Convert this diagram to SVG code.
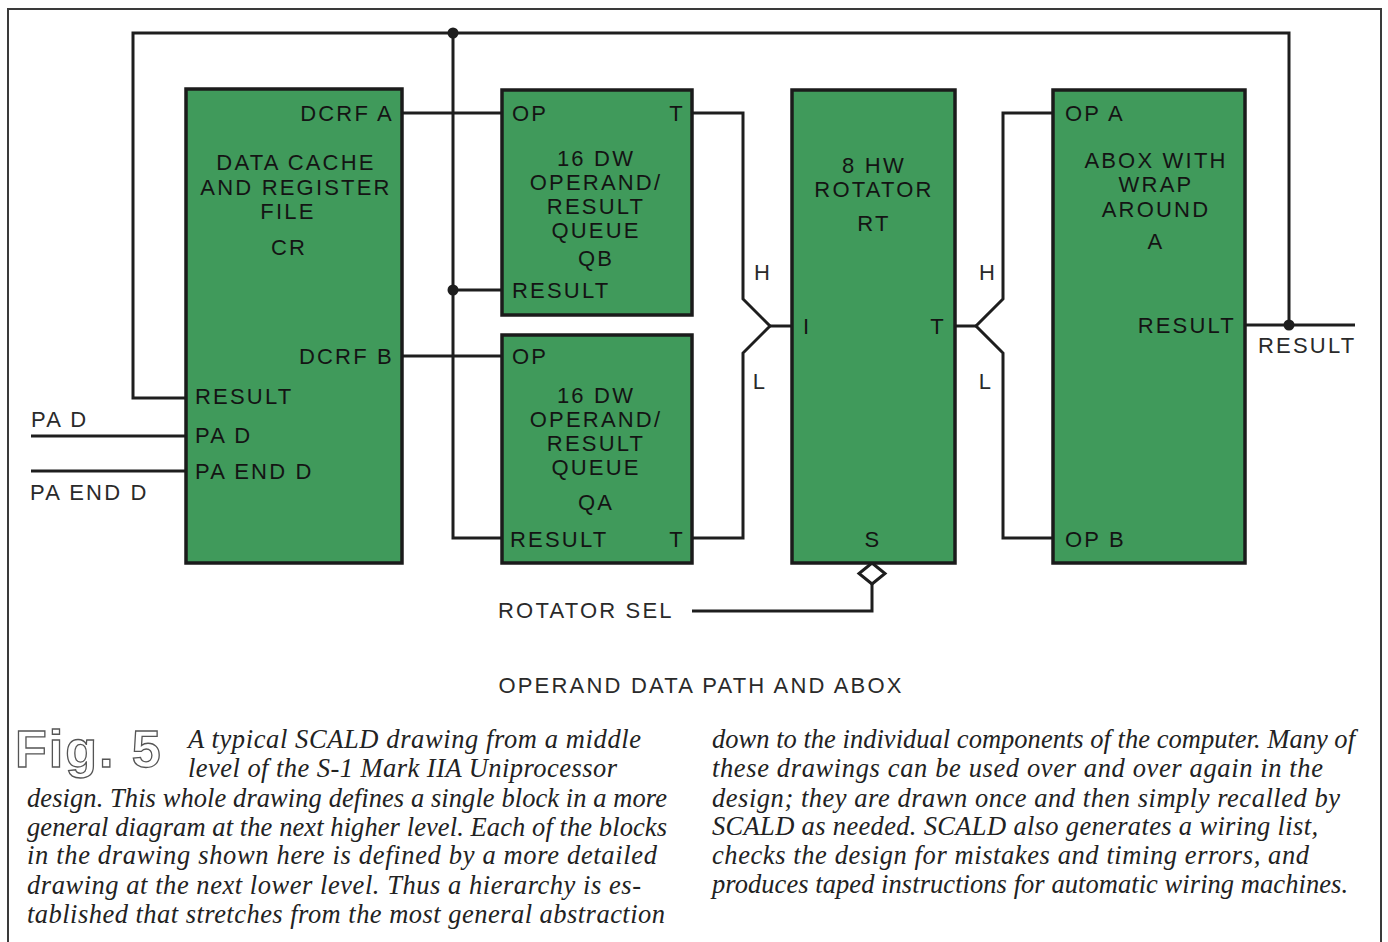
<svg xmlns="http://www.w3.org/2000/svg" width="1388" height="942" viewBox="0 0 1388 942">
<style>
.box{fill:#409a5b;stroke:#1b1b1b;stroke-width:3.5}
.w{fill:none;stroke:#1e1e1e;stroke-width:3;stroke-linejoin:miter}
.fr{fill:none;stroke:#3a3a3a;stroke-width:2}
.t{font-family:"Liberation Sans",Arial,sans-serif;font-size:22px;letter-spacing:2.2px;fill:#141414}
.o{font-family:"Liberation Sans",Arial,sans-serif;font-size:22px;letter-spacing:2.2px;fill:#2a2a2a}
.m{text-anchor:middle}
.e{text-anchor:end}
.c{font-family:"Liberation Serif","Times New Roman",serif;font-style:italic;font-size:26.5px;fill:#222}
.fig{font-family:"Liberation Sans",Arial,sans-serif;font-size:52px;font-weight:bold;letter-spacing:2px;fill:#fff;stroke:#555;stroke-width:1.3}
</style>
<rect width="1388" height="942" fill="#fff"/>
<path class="fr" d="M8,942 V9 H1381 V942"/>

<g id="connectors">
<path class="w" d="M186,398 H133 V33 H1289 V325"/>
<path class="w" d="M1245,325 H1355"/>
<path class="w" d="M453,33 V538 H502"/>
<path class="w" d="M453,290 H502"/>
<path class="w" d="M402,113 H502"/>
<path class="w" d="M402,356 H502"/>
<path class="w" d="M31,436 H186"/>
<path class="w" d="M31,471 H186"/>
<path class="w" d="M692,113 H743 V299 L770,326 L743,353 V538 H692"/>
<path class="w" d="M770,326 H792"/>
<path class="w" d="M1053,113 H1003 V299 L976,326 L1003,353 V538 H1053"/>
<path class="w" d="M955,326 H976"/>
<path class="w" d="M692,611 H872 V584"/>
<polygon points="872,563 885,573.5 872,584 859,573.5" fill="#fff" stroke="#1e1e1e" stroke-width="3"/>
<circle cx="453" cy="33" r="5.5" fill="#1e1e1e"/>
<circle cx="453" cy="290" r="5.5" fill="#1e1e1e"/>
<circle cx="1289" cy="325" r="5.5" fill="#1e1e1e"/>
</g>

<g id="CR">
<rect class="box" x="186" y="89" width="216" height="474"/>
<text class="t e" x="394" y="121">DCRF A</text>
<text class="t m" x="296" y="170">DATA CACHE</text>
<text class="t m" x="296" y="195">AND REGISTER</text>
<text class="t m" x="288" y="219">FILE</text>
<text class="t m" x="289" y="255">CR</text>
<text class="t e" x="394" y="364">DCRF B</text>
<text class="t" x="195" y="404">RESULT</text>
<text class="t" x="195" y="443">PA D</text>
<text class="t" x="195" y="479">PA END D</text>
</g>

<g id="QB">
<rect class="box" x="502" y="90" width="190" height="225"/>
<text class="t" x="512" y="121">OP</text>
<text class="t e" x="685" y="121">T</text>
<text class="t m" x="596" y="166">16 DW</text>
<text class="t m" x="596" y="190">OPERAND/</text>
<text class="t m" x="596" y="214">RESULT</text>
<text class="t m" x="596" y="238">QUEUE</text>
<text class="t m" x="596" y="266">QB</text>
<text class="t" x="512" y="298">RESULT</text>
</g>

<g id="QA">
<rect class="box" x="502" y="335" width="190" height="228"/>
<text class="t" x="512" y="364">OP</text>
<text class="t m" x="596" y="403">16 DW</text>
<text class="t m" x="596" y="427">OPERAND/</text>
<text class="t m" x="596" y="451">RESULT</text>
<text class="t m" x="596" y="475">QUEUE</text>
<text class="t m" x="596" y="510">QA</text>
<text class="t" x="510" y="547">RESULT</text>
<text class="t e" x="685" y="547">T</text>
</g>

<g id="RT">
<rect class="box" x="792" y="90" width="163" height="473"/>
<text class="t m" x="874" y="173">8 HW</text>
<text class="t m" x="874" y="197">ROTATOR</text>
<text class="t m" x="874" y="231">RT</text>
<text class="t" x="803" y="334">I</text>
<text class="t e" x="946" y="334">T</text>
<text class="t m" x="873" y="547">S</text>
</g>

<g id="ABOX">
<rect class="box" x="1053" y="90" width="192" height="473"/>
<text class="t" x="1065" y="121">OP A</text>
<text class="t m" x="1156" y="168">ABOX WITH</text>
<text class="t m" x="1156" y="192">WRAP</text>
<text class="t m" x="1156" y="217">AROUND</text>
<text class="t m" x="1156" y="249">A</text>
<text class="t e" x="1236" y="333">RESULT</text>
<text class="t" x="1065" y="547">OP B</text>
</g>

<g id="labels">
<text class="o" x="31" y="427">PA D</text>
<text class="o" x="30" y="500">PA END D</text>
<text class="o m" x="763" y="280">H</text>
<text class="o m" x="760" y="389">L</text>
<text class="o m" x="988" y="280">H</text>
<text class="o m" x="986" y="389">L</text>
<text class="o" x="1258" y="353">RESULT</text>
<text class="o" x="498" y="618">ROTATOR SEL</text>
<text class="o m" x="701" y="693">OPERAND DATA PATH AND ABOX</text>
</g>

<g id="caption">
<text class="fig" x="15" y="767">Fig. 5</text>
<text class="c" x="188" y="748" textLength="453" lengthAdjust="spacing">A typical SCALD drawing from a middle</text>
<text class="c" x="188" y="777" textLength="429" lengthAdjust="spacing">level of the S-1 Mark IIA Uniprocessor</text>
<text class="c" x="27" y="807" textLength="640" lengthAdjust="spacing">design. This whole drawing defines a single block in a more</text>
<text class="c" x="27" y="836" textLength="640" lengthAdjust="spacing">general diagram at the next higher level. Each of the blocks</text>
<text class="c" x="27" y="864" textLength="630" lengthAdjust="spacing">in the drawing shown here is defined by a more detailed</text>
<text class="c" x="27" y="894" textLength="614" lengthAdjust="spacing">drawing at the next lower level. Thus a hierarchy is es-</text>
<text class="c" x="27" y="923" textLength="638" lengthAdjust="spacing">tablished that stretches from the most general abstraction</text>
<text class="c" x="712" y="748" textLength="643" lengthAdjust="spacing">down to the individual components of the computer. Many of</text>
<text class="c" x="712" y="777" textLength="611" lengthAdjust="spacing">these drawings can be used over and over again in the</text>
<text class="c" x="712" y="807" textLength="628" lengthAdjust="spacing">design; they are drawn once and then simply recalled by</text>
<text class="c" x="712" y="835" textLength="606" lengthAdjust="spacing">SCALD as needed. SCALD also generates a wiring list,</text>
<text class="c" x="712" y="864" textLength="597" lengthAdjust="spacing">checks the design for mistakes and timing errors, and</text>
<text class="c" x="712" y="893" textLength="636" lengthAdjust="spacing">produces taped instructions for automatic wiring machines.</text>
</g>
</svg>
